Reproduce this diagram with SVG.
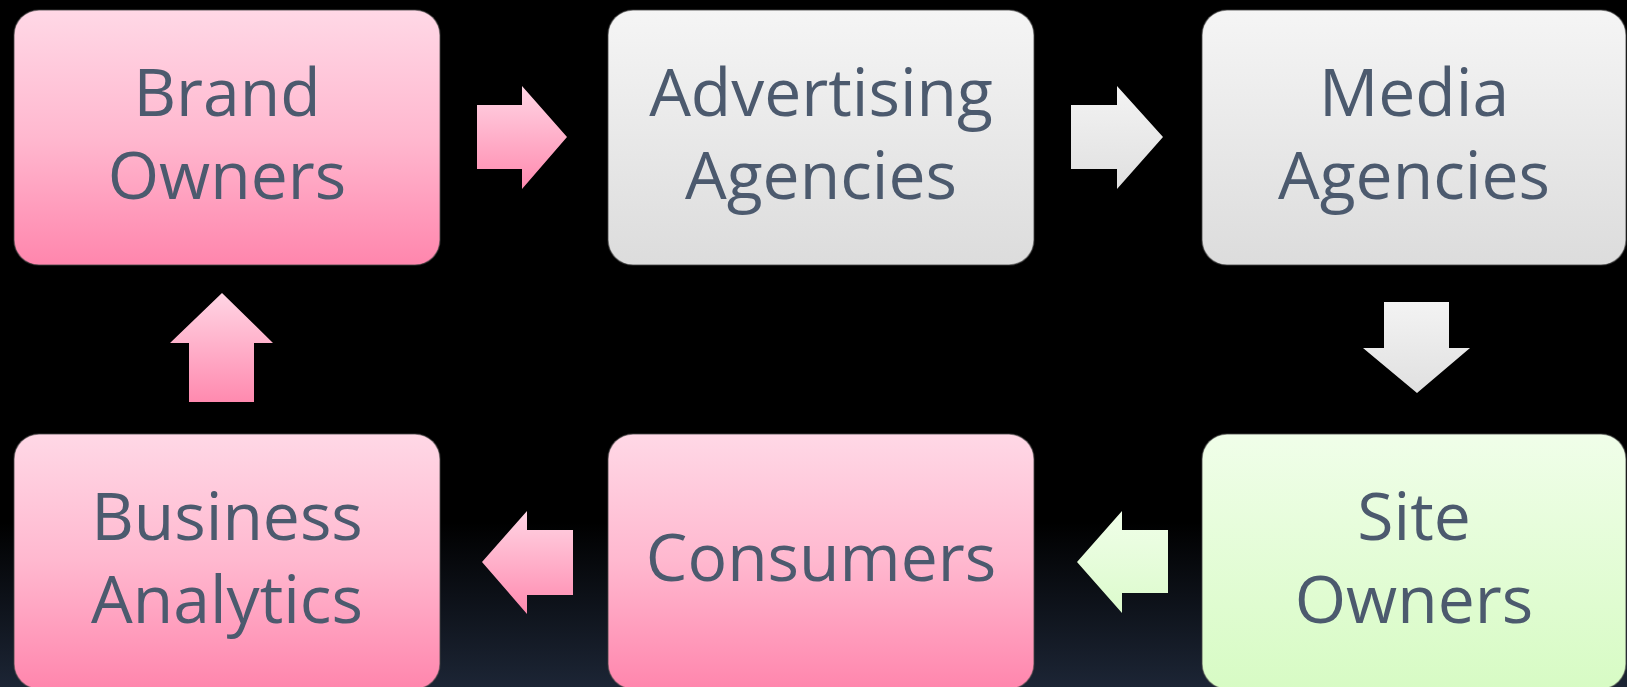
<svg xmlns="http://www.w3.org/2000/svg" width="1627" height="687" viewBox="0 0 1627 687">
  <defs>
    <linearGradient id="bg" x1="0" y1="0" x2="0" y2="1">
      <stop offset="0" stop-color="#000000"/>
      <stop offset="0.76" stop-color="#000000"/>
      <stop offset="1" stop-color="#1c2535"/>
    </linearGradient>
    <linearGradient id="pink" x1="0" y1="0" x2="0" y2="1">
      <stop offset="0" stop-color="#ffd8e6"/>
      <stop offset="0.5" stop-color="#ffb8cf"/>
      <stop offset="1" stop-color="#ff86ad"/>
    </linearGradient>
    <linearGradient id="grey" x1="0" y1="0" x2="0" y2="1">
      <stop offset="0" stop-color="#f5f5f5"/>
      <stop offset="1" stop-color="#dcdcdc"/>
    </linearGradient>
    <linearGradient id="green" x1="0" y1="0" x2="0" y2="1">
      <stop offset="0" stop-color="#f0fee9"/>
      <stop offset="1" stop-color="#d7fbc4"/>
    </linearGradient>
    <linearGradient id="pinkA" x1="0" y1="0" x2="0" y2="1">
      <stop offset="0" stop-color="#ffd5e4"/>
      <stop offset="1" stop-color="#ff8aaf"/>
    </linearGradient>
    <linearGradient id="greyA" x1="0" y1="0" x2="0" y2="1">
      <stop offset="0" stop-color="#f3f3f3"/>
      <stop offset="1" stop-color="#e0e0e0"/>
    </linearGradient>
    <linearGradient id="greenA" x1="0" y1="0" x2="0" y2="1">
      <stop offset="0" stop-color="#f0fee9"/>
      <stop offset="1" stop-color="#dcfbcc"/>
    </linearGradient>
    <style>
      .box { stroke: rgba(70,70,70,0.55); stroke-width: 1.5; }
      .lbl { font-family: "Open Sans", "Noto Sans", sans-serif; font-size: 66px; fill: #4c5a6e; text-anchor: middle; }
    </style>
  </defs>
  <rect x="0" y="0" width="1627" height="687" fill="url(#bg)"/>

  <g id="connectors">
    <polygon fill="url(#pinkA)" points="477,105 522,105 522,86 567,137 522,189 522,169 477,169"/>
    <polygon fill="url(#greyA)" points="1071,105 1117,105 1117,86 1163,137 1117,189 1117,169 1071,169"/>
    <polygon fill="url(#greyA)" points="1384,302 1449,302 1449,348 1470,348 1417,393 1363,348 1384,348"/>
    <polygon fill="url(#greenA)" points="1168,530 1122,530 1122,511 1077,562 1122,613 1122,593 1168,593"/>
    <polygon fill="url(#pinkA)" points="573,530 527,530 527,511 482,562 527,614 527,595 573,595"/>
    <polygon fill="url(#pinkA)" points="189,402 189,343 170,343 222,293 273,343 254,343 254,402"/>
  </g>

  <g id="brand-owners">
    <rect class="box" x="14" y="10" width="426" height="255" rx="25" fill="url(#pink)"/>
    <text class="lbl" x="227" y="116">Brand</text>
    <text class="lbl" x="227" y="199">Owners</text>
  </g>
  <g id="advertising-agencies">
    <rect class="box" x="608" y="10" width="426" height="255" rx="25" fill="url(#grey)"/>
    <text class="lbl" x="821" y="116">Advertising</text>
    <text class="lbl" x="821" y="199">Agencies</text>
  </g>
  <g id="media-agencies">
    <rect class="box" x="1202" y="10" width="424" height="255" rx="25" fill="url(#grey)"/>
    <text class="lbl" x="1414" y="116">Media</text>
    <text class="lbl" x="1414" y="199">Agencies</text>
  </g>
  <g id="site-owners">
    <rect class="box" x="1202" y="434" width="424" height="255" rx="25" fill="url(#green)"/>
    <text class="lbl" x="1414" y="540">Site</text>
    <text class="lbl" x="1414" y="623">Owners</text>
  </g>
  <g id="consumers">
    <rect class="box" x="608" y="434" width="426" height="255" rx="25" fill="url(#pink)"/>
    <text class="lbl" x="821" y="581">Consumers</text>
  </g>
  <g id="business-analytics">
    <rect class="box" x="14" y="434" width="426" height="255" rx="25" fill="url(#pink)"/>
    <text class="lbl" x="227" y="540">Business</text>
    <text class="lbl" x="227" y="623">Analytics</text>
  </g>
</svg>
